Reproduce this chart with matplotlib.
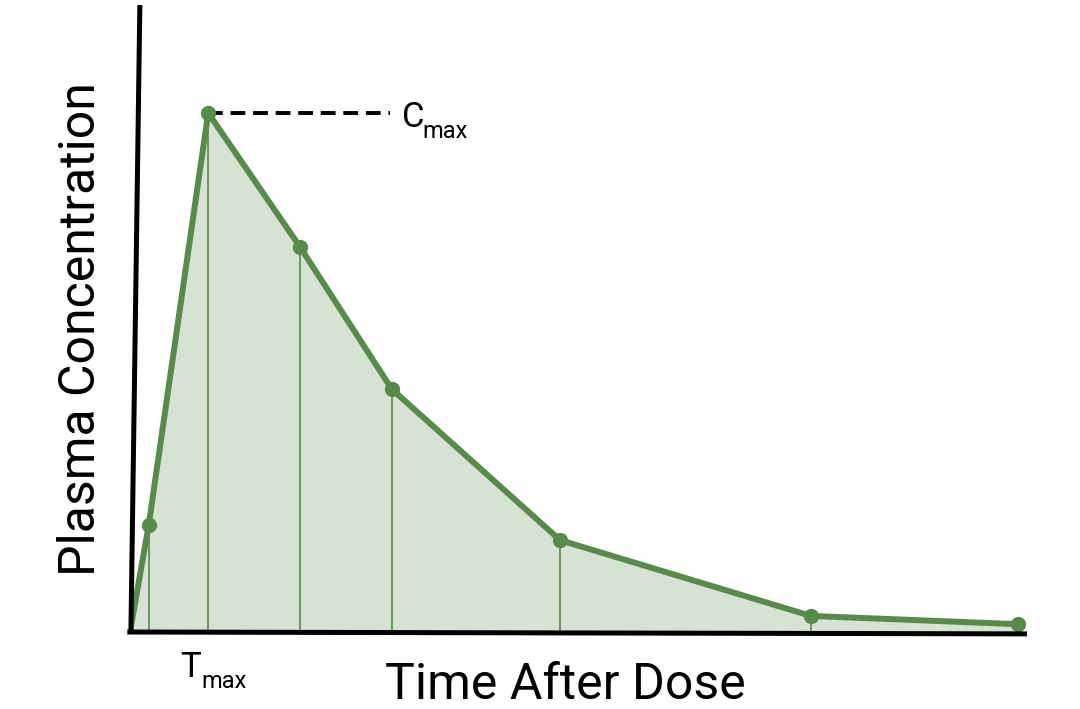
import numpy as np
import matplotlib
matplotlib.use("Agg")
import matplotlib.pyplot as plt

plt.rcParams["font.family"] = ["Roboto", "DejaVu Sans"]

# sampling times (arbitrary units) and plasma concentration (% of Cmax)
times = [0, 0.22, 0.92, 2.0, 3.08, 5.06, 8.01, 10.45]
conc = [0, 20.6, 100, 74.2, 46.8, 17.7, 3.1, 1.5]
cmax_line_end = 3.06

green = "#568b4a"
fill = "#d7e2d4"

fig = plt.figure(figsize=(10.8, 7.09), dpi=100)
ax = fig.add_axes([130/1080, 77/709, 897/1080, 627/709])
ax.set_xlim(0, 897/85)
ax.set_ylim(0, 627/5.19)
ax.axis("off")

t = np.array(times)
c = np.array(conc)
ax.fill_between(t, 0, c, color=fill, lw=0, zorder=1)
ax.vlines(t[1:], 0, c[1:], color=green, lw=1.2, zorder=2)
ax.plot(t, c, color=green, lw=4.3, zorder=3, solid_capstyle="round")
ax.plot(t[1:], c[1:], "o", color=green, ms=10, zorder=4)

# Cmax guide
imax = int(np.argmax(c))
ax.plot([t[imax], cmax_line_end], [c[imax], c[imax]], color="black",
        lw=2.8, dashes=(3.8, 2.0), zorder=2)
ax.annotate("C", (cmax_line_end, c[imax]), xytext=(8.6, -10), textcoords="offset points",
            fontsize=25, va="baseline", ha="left")
ax.annotate("max", (cmax_line_end, c[imax]), xytext=(23.5, -18), textcoords="offset points",
            fontsize=17, va="baseline", ha="left")
ax.annotate("T", (t[imax], 0), xytext=(-20, -32.4), textcoords="offset points",
            fontsize=25, va="baseline", ha="left", annotation_clip=False)
ax.annotate("max", (t[imax], 0), xytext=(-5, -40.3), textcoords="offset points",
            fontsize=17, va="baseline", ha="left", annotation_clip=False)

# hand-drawn looking axes
ax.plot([0.001, 0.011], [0, 1], color="black", lw=3.6, transform=ax.transAxes,
        clip_on=False, zorder=5, solid_capstyle="butt")
ax.plot([-0.003, 1.0], [0, -0.003], color="black", lw=3.6, transform=ax.transAxes,
        clip_on=False, zorder=5, solid_capstyle="butt")

fig.text(565/1080, 10/709, "Time After Dose", fontsize=36, ha="center", va="baseline")
fig.text(81/1080, 1 - 329/709, "Plasma Concentration", fontsize=36,
         rotation=90, ha="center", va="center")

fig.savefig("out.png", dpi=100)
